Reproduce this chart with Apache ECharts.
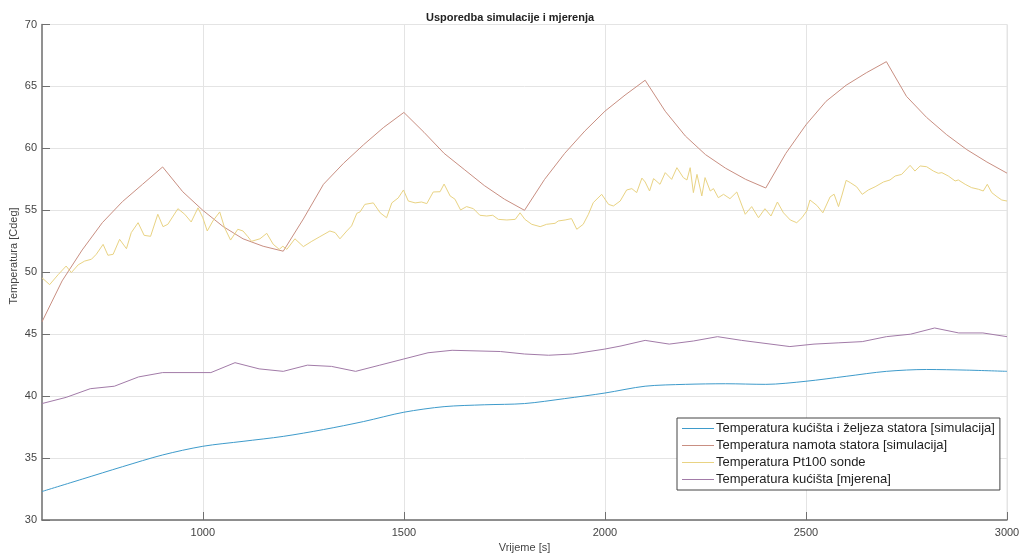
<!DOCTYPE html>
<html>
<head>
<meta charset="utf-8">
<title>Usporedba simulacije i mjerenja</title>
<script src="https://cdn.jsdelivr.net/npm/echarts@6/dist/echarts.min.js"></script>
<style>
  html, body { margin: 0; padding: 0; background: #fff; }
  #chart { width: 1020px; height: 557px; }
</style>
</head>
<body>
<div id="chart"></div>
<script>
  // podaci ocitani sa slike
  var seriesNames = [
    'Temperatura kućišta i željeza statora [simulacija]',
    'Temperatura namota statora [simulacija]',
    'Temperatura Pt100 sonde',
    'Temperatura kućišta [mjerena]'
  ];
  var xTicks = [1000, 1500, 2000, 2500, 3000];

  var kucisteSimTime = [600, 700, 800, 900, 1000, 1100, 1200, 1300, 1400, 1500, 1600, 1700, 1800,
    1900, 2000, 2100, 2200, 2300, 2400, 2500, 2600, 2700, 2800, 2900, 3000];
  var kucisteSimTemp = [32.3, 33.3, 34.3, 35.25, 35.95, 36.35, 36.75, 37.3, 37.95, 38.7, 39.15, 39.3, 39.4,
    39.8, 40.25, 40.8, 40.95, 41.0, 40.95, 41.2, 41.6, 42.0, 42.15, 42.1, 42.0];

  var namotTime = [600, 650, 700, 750, 800, 850, 900, 950, 1000, 1050, 1100, 1150, 1200,
    1250, 1300, 1350, 1400, 1450, 1500, 1550, 1600, 1650, 1700, 1750, 1800,
    1850, 1900, 1950, 2000, 2050, 2100, 2150, 2200, 2250, 2300, 2350, 2400,
    2450, 2500, 2550, 2600, 2650, 2700, 2750, 2800, 2850, 2900, 2950, 3000];
  var namotTemp = [46.0, 49.3, 51.8, 54.0, 55.7, 57.1, 58.5, 56.5, 55.0, 53.7, 52.7, 52.1, 51.7,
    54.3, 57.1, 58.8, 60.3, 61.7, 62.9, 61.3, 59.6, 58.3, 57.0, 55.9, 55.0,
    57.5, 59.6, 61.4, 63.0, 64.3, 65.5, 63.0, 61.0, 59.5, 58.4, 57.5, 56.8,
    59.6, 61.9, 63.8, 65.1, 66.1, 67.0, 64.2, 62.5, 61.1, 59.9, 58.9, 58.0];

  var pt100Time = [600, 619, 640, 660, 673, 690, 706, 723, 735, 752, 764, 777, 793, 810, 822, 839, 854, 870,
    888, 901, 913, 938, 955, 971, 988, 1000, 1011, 1025, 1042, 1054, 1069, 1087, 1100, 1112,
    1121, 1142, 1159, 1175, 1190, 1199, 1209, 1229, 1250, 1271, 1291, 1316, 1329, 1341, 1358,
    1370, 1383, 1391, 1403, 1424, 1441, 1457, 1470, 1486, 1499, 1511, 1528, 1544, 1557, 1573,
    1590, 1600, 1615, 1627, 1641, 1656, 1673, 1689, 1706, 1721, 1735, 1756, 1777, 1789, 1801,
    1818, 1839, 1855, 1876, 1884, 1901, 1917, 1930, 1946, 1959, 1971, 1992, 2009, 2021, 2038,
    2054, 2067, 2079, 2092, 2100, 2111, 2121, 2137, 2150, 2166, 2179, 2195, 2204, 2212, 2220,
    2229, 2241, 2249, 2262, 2270, 2282, 2295, 2311, 2328, 2349, 2365, 2382, 2398, 2413, 2429,
    2444, 2461, 2477, 2490, 2502, 2510, 2527, 2542, 2560, 2570, 2581, 2589, 2600, 2610, 2626,
    2640, 2655, 2672, 2693, 2709, 2722, 2738, 2759, 2771, 2784, 2800, 2817, 2829, 2838, 2854,
    2871, 2879, 2896, 2912, 2929, 2941, 2951, 2962, 2975, 2987, 3000];
  var pt100Temp = [49.55, 49.0, 49.8, 50.5, 49.97, 50.6, 50.9, 51.05, 51.45, 52.25, 51.37, 51.45, 52.66, 51.9, 53.2, 54.0, 52.98, 52.9,
    54.68, 53.68, 53.87, 55.13, 54.68, 54.06, 55.2, 54.4, 53.33, 54.14, 54.87, 53.6, 52.6, 53.47, 53.33, 52.87,
    52.5, 52.7, 53.14, 52.26, 51.85, 52.1, 51.85, 52.7, 52.07, 52.5, 52.87, 53.33, 53.2, 52.7, 53.33,
    53.74, 54.76, 54.87, 55.48, 55.6, 54.8, 54.4, 55.6, 56.0, 56.64, 55.75, 55.6, 55.67, 55.54, 56.48,
    56.5, 57.12, 56.16, 55.9, 55.03, 55.3, 55.13, 54.6, 54.54, 54.6, 54.27, 54.22, 54.27, 54.8, 54.27,
    53.87, 53.68, 53.87, 53.95, 54.14, 54.22, 54.33, 53.47, 53.87, 54.68, 55.62, 56.29, 55.48, 55.35, 55.75,
    56.64, 56.75, 56.43, 57.6, 57.29, 56.56, 57.56, 57.1, 58.04, 57.5, 58.44, 57.64, 57.45, 58.44, 56.43,
    57.9, 56.16, 57.64, 56.56, 56.75, 56.02, 56.29, 55.94, 56.48, 54.68, 55.3, 54.4, 55.13, 54.54, 55.67,
    54.8, 54.22, 54.0, 54.4, 54.95, 55.83, 55.4, 54.8, 56.08, 56.3, 55.3, 56.16, 57.42, 57.24, 56.9,
    56.29, 56.64, 56.9, 57.29, 57.45, 57.77, 57.9, 58.63, 58.17, 58.58, 58.52, 58.17, 57.99, 58.04, 57.77,
    57.37, 57.45, 57.1, 56.83, 56.7, 56.56, 57.1, 56.43, 56.1, 55.83, 55.75];

  var kucisteMjTime = [600, 660, 720, 780, 840, 900, 1020, 1080, 1140, 1200, 1260, 1320, 1380, 1440, 1500,
    1560, 1620, 1740, 1800, 1860, 1920, 2000, 2040, 2100, 2160, 2220, 2280, 2340, 2460, 2520,
    2580, 2640, 2700, 2760, 2820, 2880, 2940, 3000];
  var kucisteMjTemp = [39.4, 39.9, 40.6, 40.8, 41.55, 41.9, 41.9, 42.7, 42.2, 42.0, 42.5, 42.4, 42.0, 42.5, 43.0,
    43.5, 43.7, 43.6, 43.4, 43.3, 43.4, 43.8, 44.05, 44.5, 44.2, 44.45, 44.8, 44.5, 44.0, 44.2,
    44.3, 44.4, 44.8, 45.0, 45.5, 45.1, 45.1, 44.8];

  var colors = ['#3e9bcb', '#c98f82', '#e9d383', '#a27ba8'];

  function pairs(xs, ys) {
    return xs.map(function (x, i) { return [x, ys[i]]; });
  }

  var chart = echarts.init(document.getElementById('chart'));
  chart.setOption({
    backgroundColor: '#fff',
    color: colors,
    animation: false,
    title: {
      text: 'Usporedba simulacije i mjerenja',
      left: 'center',
      top: 7,
      textStyle: { fontFamily: 'Liberation Sans', fontSize: 11, fontWeight: 'bold', color: '#222' }
    },
    // naziv y osi kao zaseban tekst (MATLAB ga stavlja malo iznad sredine)
    graphic: [{
      type: 'text',
      x: 14,
      y: 256,
      rotation: Math.PI / 2,
      style: {
        text: 'Temperatura [Cdeg]',
        font: '11px "Liberation Sans"',
        fill: '#444',
        align: 'center',
        verticalAlign: 'middle'
      }
    }],
    grid: {
      left: 42, right: 13, top: 24.5, bottom: 37,
      containLabel: false,
      outerBoundsMode: 'none',
      show: true, borderColor: '#e4e4e4', borderWidth: 1
    },
    legend: {
      orient: 'vertical',
      left: 677,
      top: 418,
      padding: [4, 5, 4, 5],
      itemGap: 4,
      itemWidth: 32,
      itemHeight: 1,
      icon: 'rect',
      backgroundColor: '#fff',
      borderColor: '#444',
      borderWidth: 1,
      borderRadius: 0,
      textStyle: { fontFamily: 'Liberation Sans', fontSize: 13, color: '#222', lineHeight: 13, padding: [0, 0, 0, -3] },
      data: seriesNames
    },
    xAxis: {
      type: 'value',
      min: 600,
      max: 3000,
      name: 'Vrijeme [s]',
      nameLocation: 'middle',
      nameGap: 21,
      nameTextStyle: { fontFamily: 'Liberation Sans', fontSize: 11, color: '#444' },
      axisLine: { show: true, onZero: false, lineStyle: { color: '#707070', width: 1.5 } },
      axisTick: { show: true, inside: true, length: 8, customValues: xTicks, lineStyle: { color: '#707070' } },
      axisLabel: {
        customValues: xTicks, margin: 7, fontFamily: 'Liberation Sans', fontSize: 11, color: '#444',
        formatter: function (v) { return String(v); }
      },
      splitLine: { show: true, lineStyle: { color: '#e4e4e4' } }
    },
    yAxis: {
      type: 'value',
      min: 30,
      max: 70,
      interval: 5,
      axisLine: { show: true, onZero: false, lineStyle: { color: '#707070', width: 1.5 } },
      axisTick: { show: true, inside: true, length: 8, lineStyle: { color: '#707070' } },
      axisLabel: { margin: 5, fontFamily: 'Liberation Sans', fontSize: 11, color: '#444' },
      splitLine: { show: true, lineStyle: { color: '#e4e4e4' } }
    },
    series: [
      { name: seriesNames[0], type: 'line', data: pairs(kucisteSimTime, kucisteSimTemp), smooth: 0.3,
        symbol: 'none', lineStyle: { width: 1 } },
      { name: seriesNames[1], type: 'line', data: pairs(namotTime, namotTemp),
        symbol: 'none', lineStyle: { width: 1 } },
      { name: seriesNames[2], type: 'line', data: pairs(pt100Time, pt100Temp),
        symbol: 'none', lineStyle: { width: 1 } },
      { name: seriesNames[3], type: 'line', data: pairs(kucisteMjTime, kucisteMjTemp),
        symbol: 'none', lineStyle: { width: 1 } }
    ]
  });
</script>
</body>
</html>
